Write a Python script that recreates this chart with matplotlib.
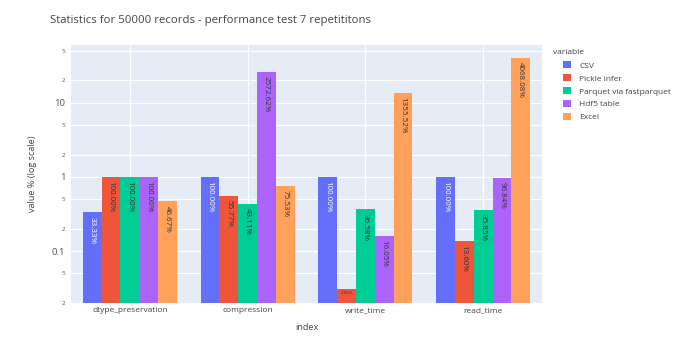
import matplotlib
matplotlib.use("Agg")
import matplotlib.pyplot as plt
from matplotlib.patches import Patch
import numpy as np

plt.rcParams['font.family'] = ['Open Sans', 'DejaVu Sans']

# Relative values (1.0 == 100 % of the CSV baseline)
categories = ["dtype_preservation", "compression", "write_time", "read_time"]
series_names = ["CSV", "Pickle infer", "Parquet via fastparquet", "Hdf5 table", "Excel"]
csv_vals = [0.3333, 1.0, 1.0, 1.0]
pickle_vals = [1.0, 0.5577, 0.0305, 0.1360]
parquet_vals = [1.0, 0.4311, 0.3658, 0.3585]
hdf5_vals = [1.0, 25.7262, 0.1605, 0.9684]
excel_vals = [0.4667, 0.7553, 13.5552, 40.6808]
series_values = [csv_vals, pickle_vals, parquet_vals, hdf5_vals, excel_vals]

colors = ["#636EFA", "#EF553B", "#00CC96", "#AB63FA", "#FFA15A"]
text_colors = ["white", "#333333", "#333333", "#333333", "#333333"]

ytick_vals = [0.02, 0.05, 0.1, 0.2, 0.5, 1, 2, 5, 10, 20, 50]
ytick_labels = ["2", "5", "0.1", "2", "5", "1", "2", "5", "10", "2", "5"]

W, H = 686, 342
fig = plt.figure(figsize=(W / 100, H / 100), dpi=100)
fig.patch.set_facecolor("white")
ax = fig.add_axes([71 / W, 1 - 303 / H, (542 - 71) / W, (303 - 45) / H])
ax.set_facecolor("#E5ECF6")

n = len(series_names)
group_w = 0.8
bar_w = group_w / n
x = np.arange(len(categories))
ymin, ymax = 0.0206, 60

for i, (name, vals) in enumerate(zip(series_names, series_values)):
    pos = x - group_w / 2 + bar_w * (i + 0.5)
    ax.bar(pos, vals, width=bar_w, bottom=1e-6, color=colors[i],
           label=name, zorder=3, linewidth=0)
    for xp, v in zip(pos, vals):
        label = f"{v * 100:.2f}%"
        frac = (np.log10(v) - np.log10(ymin)) / (np.log10(ymax) - np.log10(ymin))
        if frac < 0.1:
            # tiny bar: small horizontal text inside
            ax.annotate(label, (xp, v), xytext=(0, -1.2), textcoords="offset points",
                        ha="center", va="top", fontsize=3.2, color=text_colors[i],
                        zorder=4)
        else:
            ax.annotate(label, (xp, v), xytext=(0, -3), textcoords="offset points",
                        ha="center", va="top", rotation=270, fontsize=5.8,
                        color=text_colors[i], zorder=4)

ax.set_yscale("log")
ax.set_ylim(ymin, ymax)
ax.set_xlim(-0.5, len(categories) - 0.5)
ax.yaxis.set_major_locator(matplotlib.ticker.FixedLocator(ytick_vals))
ax.yaxis.set_minor_locator(matplotlib.ticker.NullLocator())
ax.set_yticks(ytick_vals)
ax.set_yticklabels(ytick_labels)
for lab, txt in zip(ax.get_yticklabels(), ytick_labels):
    if txt in ("2", "5"):
        lab.set_fontsize(4.5)
    else:
        lab.set_fontsize(6.8)
    lab.set_color("#555555")
ax.set_xticks(x)
ax.set_xticklabels(categories, fontsize=6.0, color="#444444")
ax.tick_params(axis="both", length=0)
ax.tick_params(axis="y", pad=4)
ax.tick_params(axis="x", pad=3)
ax.grid(True, color="white", linewidth=0.9, zorder=0)
ax.set_axisbelow(True)
for s in ax.spines.values():
    s.set_visible(False)

ax.set_xlabel("index", fontsize=6.6, color="#444444", labelpad=6)
ax.set_ylabel("value % (log scale)", fontsize=6.6, color="#444444", labelpad=11)

fig.text(50 / W, 1 - 20 / H, "Statistics for 50000 records - performance test 7 repetititons",
         fontsize=8.2, color="#444444", ha="left", va="center")

# Legend: title sits left of the item swatches
fig.text(553 / W, 1 - 53 / H, "variable", fontsize=6, color="#444444",
         ha="left", va="center")
handles = [Patch(facecolor=c, edgecolor="none") for c in colors]
leg = fig.legend(handles, series_names, loc="upper left",
                 bbox_to_anchor=(560 / W, 1 - 58 / H), frameon=False,
                 fontsize=6, handlelength=0.9, handleheight=0.9,
                 handletextpad=1.0, labelspacing=0.55, borderaxespad=0)
for t in leg.get_texts():
    t.set_color("#444444")

fig.savefig("out.png", dpi=100, facecolor="white")
